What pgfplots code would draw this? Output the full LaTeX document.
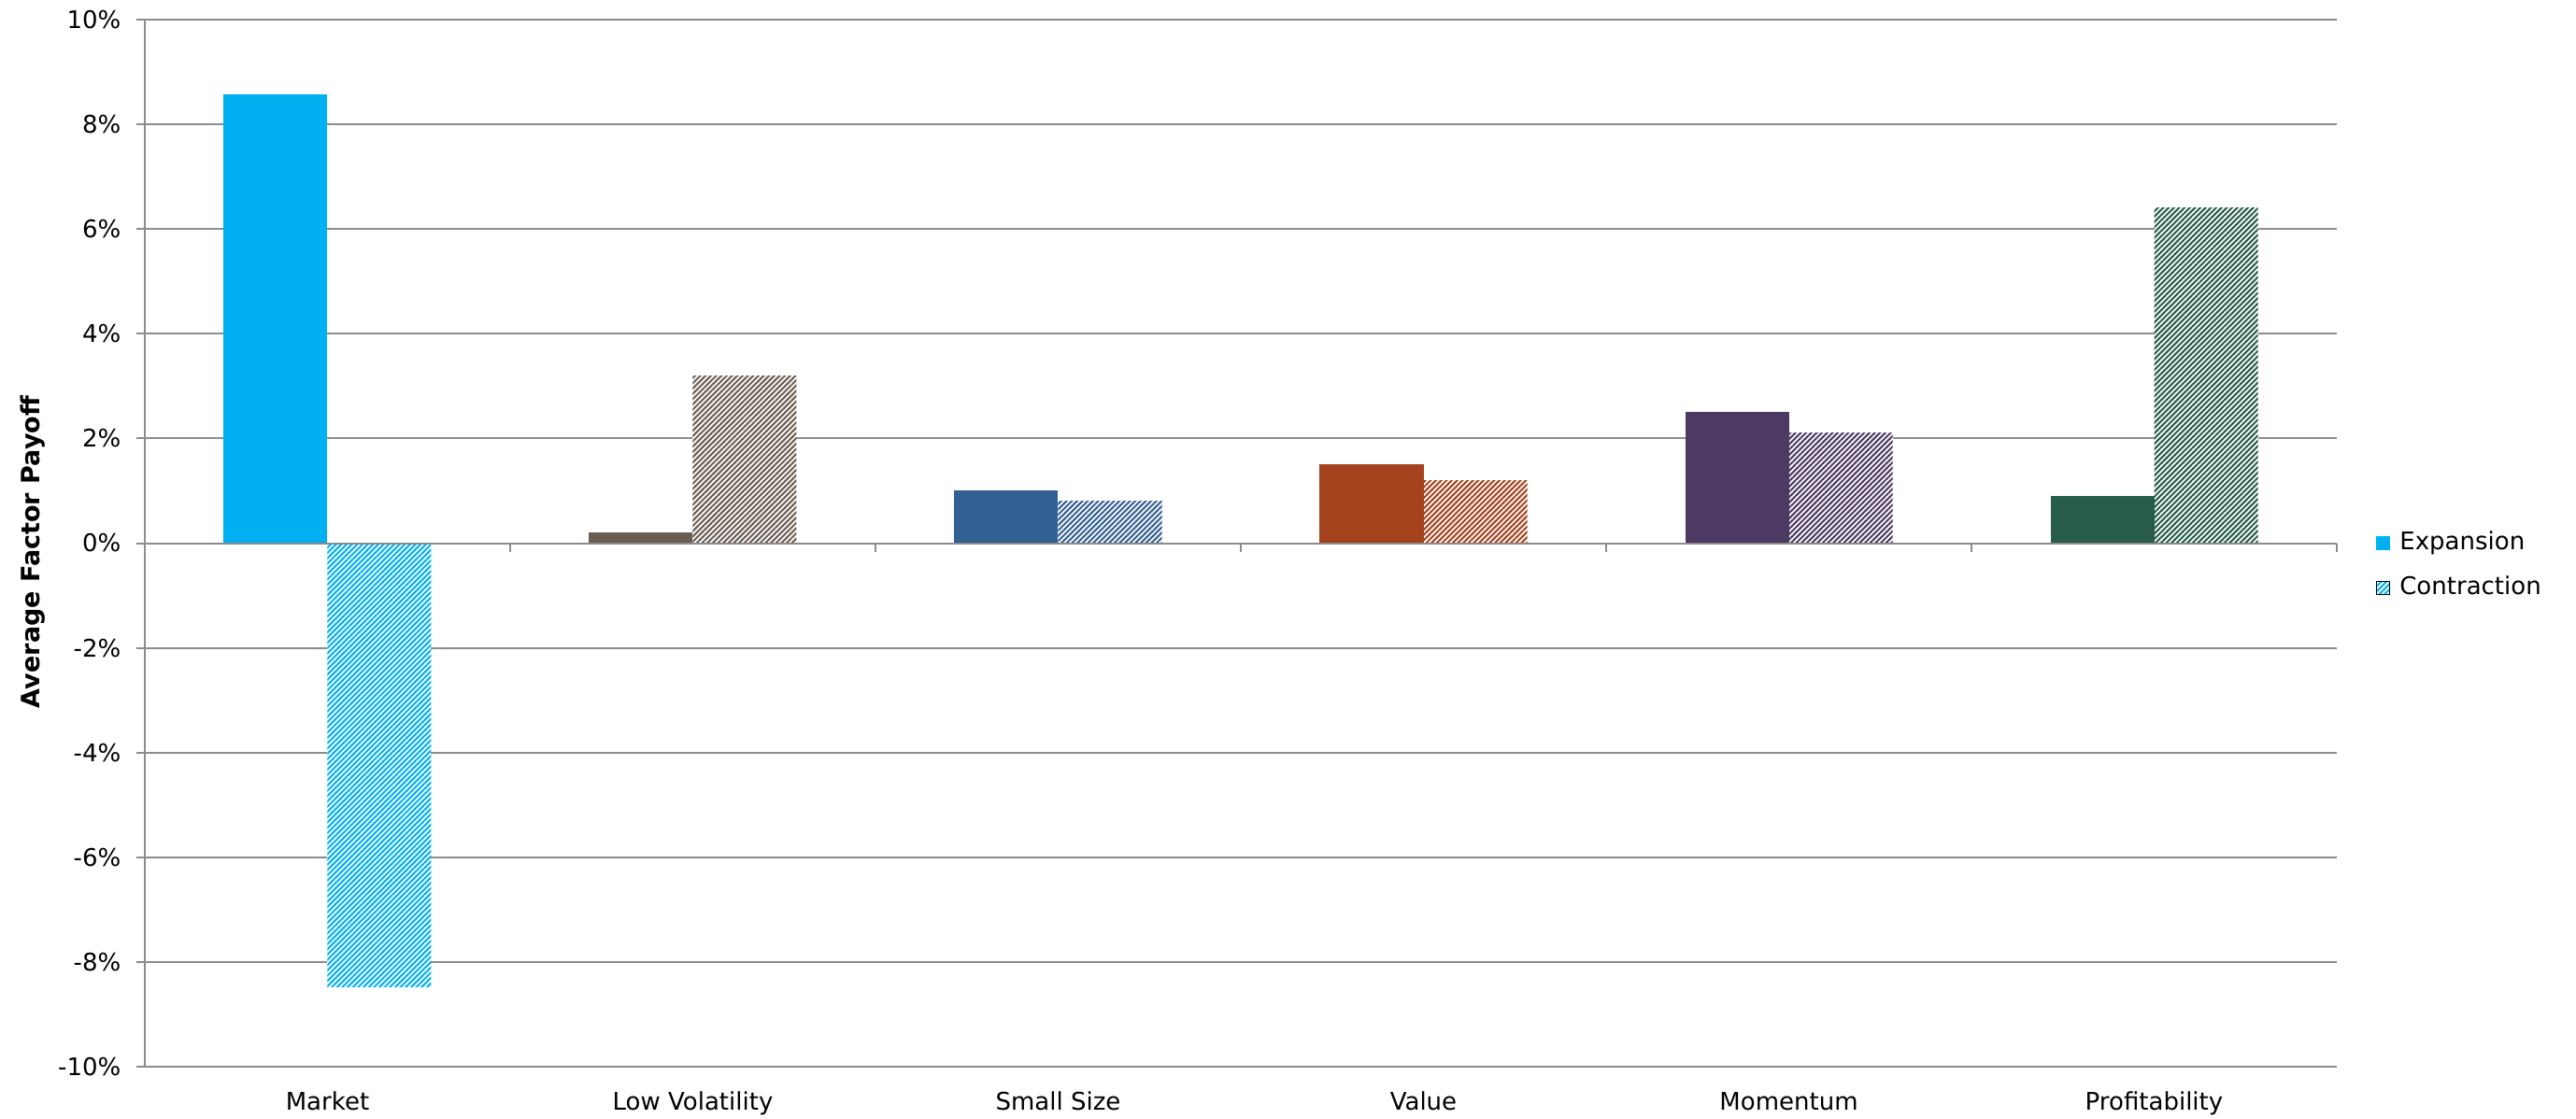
\documentclass[border=0pt]{standalone}
\usepackage{fontspec}
\setmainfont{DejaVu Sans}
\usepackage{pgfplots}
\pgfplotsset{compat=1.18}
\usetikzlibrary{patterns.meta}

% palette
\definecolor{gridgray}{HTML}{8C8C8C}
\definecolor{cMarket}{HTML}{00B0F0}
\definecolor{cLowVol}{HTML}{6B5D54}
\definecolor{cSize}{HTML}{336092}
\definecolor{cValue}{HTML}{A5421E}
\definecolor{cMom}{HTML}{4D3A62}
\definecolor{cProf}{HTML}{275C4A}

% diagonal hatching on a white ground for the contraction bars
\tikzset{hatch/.style={fill=white,
    postaction={pattern color=#1,
      pattern={Lines[angle=45,distance=1.2pt,line width=0.62pt]}}}}

\newcommand{\lblfont}{\fontsize{7.8pt}{9.4pt}\selectfont}

\pgfplotsset{
  expbar/.style={ybar, bar width=33.3pt, bar shift=-16.65pt, draw=none, fill=#1, forget plot},
  conbar/.style={ybar, bar width=33.3pt, bar shift=16.65pt, draw=none, hatch=#1, forget plot},
}

\begin{document}
\begin{tikzpicture}
\path[use as bounding box] (-46.5pt,-16.5pt) rectangle (780.6pt,342.6pt);
\begin{axis}[
  scale only axis,
  width=703.8pt, height=336.3pt,
  clip=false,
  xmin=-0.5, xmax=5.5,
  ymin=-10, ymax=10,
  axis x line*=bottom, axis y line*=left,
  axis line style={-, gridgray, line width=0.6pt},
  ymajorgrids,
  grid style={gridgray, line width=0.6pt},
  ytick={-10,-8,...,10},
  yticklabel={\pgfmathprintnumber{\tick}\%},
  ytick style={gridgray, line width=0.6pt},
  tick align=outside,
  major tick length=2.7pt,
  xtick={0,1,2,3,4,5},
  xticklabels={Market, Low Volatility, Small Size, Value, Momentum, Profitability},
  xtick style={draw=none},
  /pgf/number format/assume math mode=true,
  tick label style={font=\lblfont, text=black},
  yticklabel style={anchor=east, inner sep=0pt, xshift=-4.8pt},
  xticklabel style={anchor=base, inner sep=0pt, yshift=-11.1pt},
  ylabel={Average Factor Payoff},
  ylabel style={font=\fontsize{8.1pt}{9.7pt}\selectfont\bfseries,
    at={(axis description cs:-0.0452,0.4915)}, anchor=south, inner sep=0pt},
  legend style={at={(axis description cs:1,0.4787)}, anchor=west, xshift=12.6pt,
    draw=none, fill=none, inner sep=0pt, outer sep=0pt, row sep=6.4pt,
    font=\lblfont,
    nodes={inner sep=0pt, text height=6pt, text depth=2pt},
    /tikz/every odd column/.append style={column sep=3pt}},
  legend cell align=left,
]
% Market
\addplot[expbar=cMarket] coordinates {(0,8.57)};
\addplot[conbar=cMarket] coordinates {(0,-8.48)};
% Low Volatility
\addplot[expbar=cLowVol] coordinates {(1,0.2)};
\addplot[conbar=cLowVol] coordinates {(1,3.2)};
% Small Size
\addplot[expbar=cSize] coordinates {(2,1.0)};
\addplot[conbar=cSize] coordinates {(2,0.8)};
% Value
\addplot[expbar=cValue] coordinates {(3,1.5)};
\addplot[conbar=cValue] coordinates {(3,1.2)};
% Momentum
\addplot[expbar=cMom] coordinates {(4,2.5)};
\addplot[conbar=cMom] coordinates {(4,2.1)};
% Profitability
\addplot[expbar=cProf] coordinates {(5,0.9)};
\addplot[conbar=cProf] coordinates {(5,6.4)};

\addlegendimage{legend image code/.code={\fill[cMarket] (0pt,-2.1pt) rectangle (4.2pt,2.1pt);}}
\addlegendentry{Expansion}
\addlegendimage{legend image code/.code={\path[hatch=cMarket] (0pt,-2.1pt) rectangle (4.2pt,2.1pt);}}
\addlegendentry{Contraction}

% horizontal axis line at zero with category separators
\draw[gridgray, line width=0.6pt] (axis cs:-0.5,0) -- (axis cs:5.5,0);
\pgfplotsinvokeforeach{0.5,1.5,2.5,3.5,4.5,5.5}{
  \draw[gridgray, line width=0.6pt] (axis cs:#1,0) -- ++(0pt,-2.7pt);
}
\end{axis}
\end{tikzpicture}
\end{document}
